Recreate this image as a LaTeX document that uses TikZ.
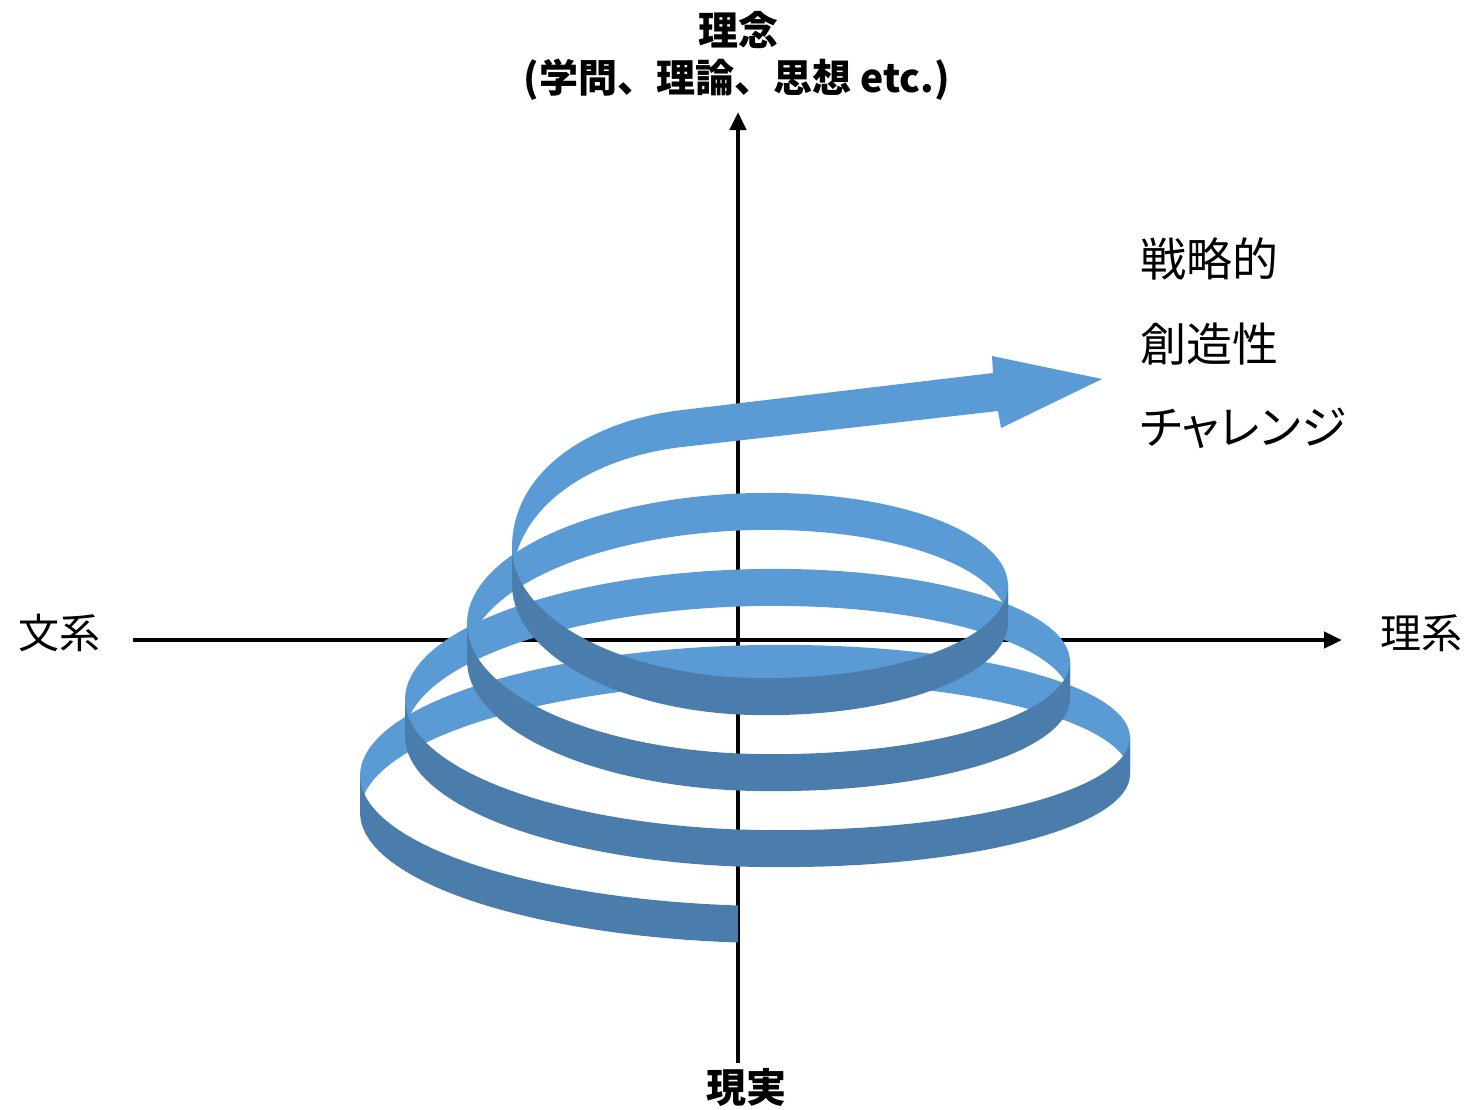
\documentclass[tikz,border=0pt]{standalone}
\usepackage{fontspec}
\newfontfamily\jp{Noto Sans CJK JP}
\newfontfamily\jpp{Noto Sans CJK JP}[RawFeature=+palt]
\usetikzlibrary{arrows.meta}

% helix ribbon: top edge of the band at angle \t (degrees)
%   x = 738 - R sin t,  y = 794.5 - 0.21111 t + 111 cos t ; band height 37
\newcommand\ribbonhalf[6]{% t0, tm, t1, R1, R2, colour
  \fill[#6]
    plot[domain=#1:#2, samples=36, variable=\t] ({738-#4*sin(\t)}, {794.5-0.211111*\t+111*cos(\t)})
    -- plot[domain=#2:#3, samples=36, variable=\t] ({738-#5*sin(\t)}, {794.5-0.211111*\t+111*cos(\t)})
    -- plot[domain=#3:#2, samples=36, variable=\t] ({738-#5*sin(\t)}, {831.5-0.211111*\t+111*cos(\t)})
    -- plot[domain=#2:#1, samples=36, variable=\t] ({738-#4*sin(\t)}, {831.5-0.211111*\t+111*cos(\t)})
    -- cycle;}
\newcommand\ribbonquarter[4]{% t0, t1, R, colour
  \fill[#4]
    plot[domain=#1:#2, samples=36, variable=\t] ({738-#3*sin(\t)}, {794.5-0.211111*\t+111*cos(\t)})
    -- plot[domain=#2:#1, samples=36, variable=\t] ({738-#3*sin(\t)}, {831.5-0.211111*\t+111*cos(\t)})
    -- cycle;}

\definecolor{ribbonin}{HTML}{5B9BD5}
\definecolor{ribbonout}{HTML}{4A7DAC}

\begin{document}
\begin{tikzpicture}[x=0.5pt,y=-0.5pt,
  axisline/.style={line width=2.2pt, -{Triangle[length=9pt,width=8pt]}},
  lbl/.style={inner sep=0pt, font=\jp\fontsize{20.5pt}{24pt}\selectfont},
  lblb/.style={inner sep=0pt, font=\jp\bfseries\fontsize{20pt}{24pt}\selectfont},
  side/.style={inner sep=0pt, anchor=west, font=\jpp\fontsize{23pt}{27pt}\selectfont}]
\useasboundingbox (0,0) rectangle (1473,1109);

% axes
\coordinate (xl) at (133,640);
\coordinate (xr) at (1342,640);
\coordinate (yb) at (738,1063);
\coordinate (yt) at (738,112);
\draw[axisline] (xl) -- (xr);
\draw[axisline] (yb) -- (yt);

% axis labels
\node[lbl, anchor=west] (bunkei) at (18,633) {文系};
\node[lbl, anchor=west] (rikei) at (1380,633) {理系};
\node[lblb] (rinen) at (738,30) {理念};
\node[lblb, font=\jp\bfseries\fontsize{19.5pt}{24pt}\selectfont] (rinen2) at (737,80) {(学問、理論、思想 etc.)};
\node[lblb] (genjitsu) at (746,1087) {現実};

% inner (back) faces of the ribbon
\ribbonhalf{90}{180}{270}{378}{392}{ribbonin}
\ribbonhalf{450}{540}{630}{333}{332}{ribbonin}
\ribbonhalf{810}{900}{990}{271}{270}{ribbonin}
% last turn running out into the arrow
\fill[ribbonin] (512,547.5) .. controls (512,472) and (588,421) .. (682,410)
  -- (993,373) -- (992,356) -- (1102,379) -- (1001,428) -- (998,411)
  -- (682,447) .. controls (588,458) and (512,509) .. (512,584.5) -- cycle;

% outer (front) faces of the ribbon
\ribbonquarter{0}{90}{378}{ribbonout}
\ribbonhalf{270}{360}{450}{392}{333}{ribbonout}
\ribbonhalf{630}{720}{810}{332}{271}{ribbonout}
\ribbonhalf{990}{1080}{1170}{270}{226}{ribbonout}

% side text
\node[side] (senryaku) at (1140,259) {戦略的};
\node[side] (souzou) at (1140,344) {創造性};
\node[side] (challenge) at (1140,428) {チャレンジ};
\end{tikzpicture}
\end{document}
